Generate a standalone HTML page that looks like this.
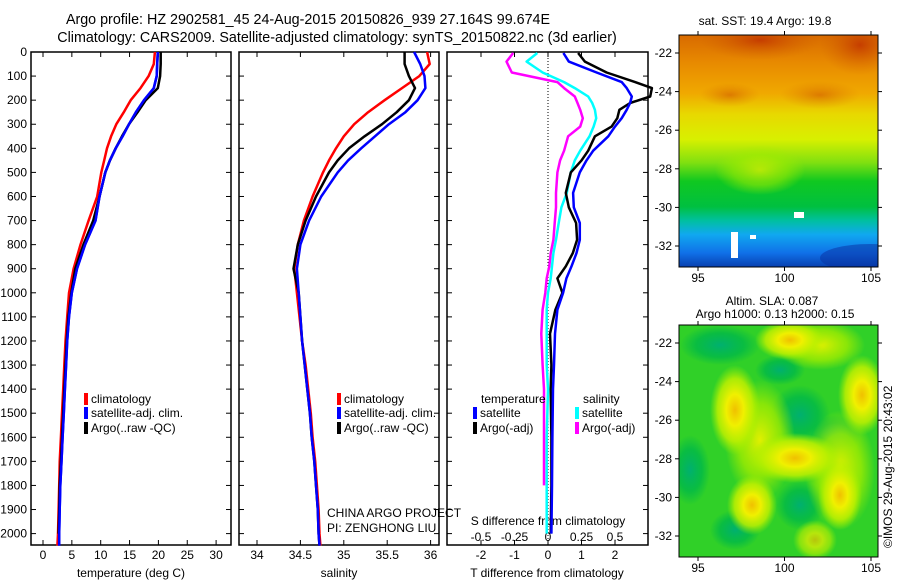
<!DOCTYPE html>
<html><head><meta charset="utf-8"><style>
body{margin:0;background:#fff;}
svg text{font-family:"Liberation Sans",sans-serif;font-size:12px;fill:#000;}
</style></head><body>
<svg id="c" width="900" height="580" viewBox="0 0 900 580" xmlns="http://www.w3.org/2000/svg">
<defs>
<linearGradient id="sst" x1="0" y1="0" x2="0" y2="1">
<stop offset="0" stop-color="#d86a00"/><stop offset="0.12" stop-color="#e88a00"/>
<stop offset="0.25" stop-color="#f0a800"/><stop offset="0.34" stop-color="#e8d800"/>
<stop offset="0.45" stop-color="#d8f000"/><stop offset="0.55" stop-color="#80e010"/>
<stop offset="0.63" stop-color="#10c820"/><stop offset="0.74" stop-color="#00c040"/>
<stop offset="0.8" stop-color="#00c0a0"/><stop offset="0.86" stop-color="#10a8f0"/>
<stop offset="0.94" stop-color="#1070e8"/><stop offset="1" stop-color="#0840b0"/>
</linearGradient>
<radialGradient id="yb"><stop offset="0" stop-color="#f0c000"/><stop offset="0.35" stop-color="#f0f000"/><stop offset="0.7" stop-color="#c0f000" stop-opacity="0.85"/><stop offset="1" stop-color="#a0f000" stop-opacity="0"/></radialGradient>
<radialGradient id="lb"><stop offset="0" stop-color="#e0f000"/><stop offset="0.6" stop-color="#a0ec00" stop-opacity="0.8"/><stop offset="1" stop-color="#a0ec00" stop-opacity="0"/></radialGradient>
<radialGradient id="gb"><stop offset="0" stop-color="#00b070"/><stop offset="0.6" stop-color="#00b848" stop-opacity="0.8"/><stop offset="1" stop-color="#00b848" stop-opacity="0"/></radialGradient>
<radialGradient id="ob"><stop offset="0" stop-color="#c03000" stop-opacity="0.8"/><stop offset="1" stop-color="#d06000" stop-opacity="0"/></radialGradient>
<clipPath id="m1"><rect x="679" y="35" width="199" height="232"/></clipPath>
<clipPath id="m2"><rect x="679" y="325" width="199" height="232"/></clipPath>
</defs>
<text x="308" y="24" text-anchor="middle" style="font-size:14.3px">Argo profile: HZ 2902581_45 24-Aug-2015 20150826_939 27.164S 99.674E</text>
<text x="337" y="42" text-anchor="middle" style="font-size:14.3px">Climatology: CARS2009. Satellite-adjusted climatology: synTS_20150822.nc (3d earlier)</text>
<g id="panels"></g>
<g id="maps">
 <g clip-path="url(#m1)">
  <rect x="679" y="35" width="199" height="232" fill="url(#sst)"/>
  <ellipse cx="760" cy="40" rx="60" ry="20" fill="url(#ob)"/>
  <ellipse cx="860" cy="45" rx="40" ry="30" fill="url(#ob)"/>
  <ellipse cx="730" cy="95" rx="30" ry="12" fill="url(#ob)" opacity="0.5"/>
  <ellipse cx="820" cy="95" rx="40" ry="14" fill="url(#ob)" opacity="0.5"/>
  <ellipse cx="760" cy="170" rx="45" ry="25" fill="url(#lb)" opacity="0.7"/>
  <ellipse cx="870" cy="258" rx="50" ry="14" fill="#0830a0" opacity="0.5"/>
  <rect x="731" y="232" width="7" height="26" fill="#fff"/>
  <rect x="794" y="212" width="10" height="6" fill="#fff"/>
  <rect x="750" y="235" width="6" height="4" fill="#fff"/>
 </g>
 <rect x="679" y="35" width="199" height="232" fill="none" stroke="#000"/>
 <g clip-path="url(#m2)">
  <rect x="679" y="325" width="199" height="232" fill="#30d028"/>
  <ellipse cx="720" cy="345" rx="40" ry="20" fill="url(#gb)"/>
  <ellipse cx="800" cy="415" rx="30" ry="30" fill="url(#gb)"/>
  <ellipse cx="835" cy="435" rx="25" ry="20" fill="url(#gb)"/>
  <ellipse cx="690" cy="470" rx="20" ry="35" fill="url(#gb)"/>
  <ellipse cx="800" cy="505" rx="25" ry="25" fill="url(#gb)"/>
  <ellipse cx="735" cy="530" rx="25" ry="20" fill="url(#gb)"/>
  <ellipse cx="780" cy="370" rx="25" ry="15" fill="url(#gb)"/>
  <ellipse cx="760" cy="440" rx="35" ry="60" fill="url(#lb)"/>
  <ellipse cx="840" cy="470" rx="35" ry="60" fill="url(#lb)"/>
  <ellipse cx="820" cy="345" rx="45" ry="25" fill="url(#lb)"/>
  <ellipse cx="735" cy="410" rx="25" ry="45" fill="url(#yb)"/>
  <ellipse cx="790" cy="340" rx="35" ry="20" fill="url(#yb)"/>
  <ellipse cx="862" cy="395" rx="24" ry="40" fill="url(#yb)"/>
  <ellipse cx="795" cy="458" rx="45" ry="25" fill="url(#yb)"/>
  <ellipse cx="840" cy="495" rx="22" ry="35" fill="url(#yb)"/>
  <ellipse cx="752" cy="505" rx="25" ry="30" fill="url(#yb)"/>
  <ellipse cx="815" cy="540" rx="22" ry="20" fill="url(#yb)" opacity="0.7"/>
 </g>
 <rect x="679" y="325" width="199" height="232" fill="none" stroke="#000"/>
 <text x="765" y="25" text-anchor="middle">sat. SST: 19.4 Argo: 19.8</text>
 <text x="772" y="305" text-anchor="middle">Altim. SLA: 0.087</text>
 <text x="775" y="318" text-anchor="middle">Argo h1000: 0.13 h2000: 0.15</text>
 <text transform="translate(892,548) rotate(-90)">©IMOS 29-Aug-2015 20:43:02</text>
</g>
</svg>
<script>
// depths (m)
const depths = [0,50,100,150,200,250,300,350,400,450,500,600,700,800,900,1000,1100,1200,1300,1400,1500,1600,1700,1800,1900,2000,2050];
// temperature (deg C)
const tClim = [19.4,19.2,18.3,16.9,15.2,14.0,12.7,11.8,11.1,10.6,10.1,9.4,7.9,6.5,5.3,4.5,4.2,3.9,3.7,3.5,3.3,3.1,2.9,2.8,2.7,2.6,2.5];
const tSat  = [19.9,19.8,19.7,19.2,17.5,16.1,14.9,13.8,12.6,11.6,10.8,9.8,9.1,7.3,5.9,5.0,4.5,4.2,4.0,3.8,3.6,3.4,3.2,3.0,2.9,2.8,2.8];
const tArgo = [20.4,20.4,20.3,19.9,17.8,16.4,14.9,13.7,12.6,11.6,10.8,9.8,8.7,7.0,5.6,4.9,4.4,4.1,3.9,3.7,3.5,3.3,3.1,2.9,2.8,2.7,2.7];
// salinity
const sClim = [35.96,35.99,35.87,35.67,35.47,35.28,35.12,35.0,34.91,34.83,34.76,34.64,34.54,34.47,34.43,34.46,34.49,34.52,34.56,34.59,34.62,34.64,34.67,34.69,34.71,34.72,34.73];
const sSat  = [35.81,35.88,35.93,35.94,35.85,35.71,35.52,35.36,35.2,35.05,34.93,34.74,34.6,34.5,34.46,34.48,34.5,34.52,34.55,34.58,34.61,34.63,34.66,34.68,34.7,34.71,34.72];
const sArgo = [35.7,35.7,35.75,35.82,35.75,35.61,35.44,35.24,35.06,34.93,34.83,34.68,34.56,34.47,34.42,34.48,34.5,34.52,34.55,34.58,34.61,34.63,34.66,34.68,34.7,34.71,34.72];
// differences from climatology
const dDepths = [4,40,85,125,150,185,212,240,275,310,350,410,450,500,585,645,710,780,835,890,940,1000,1070,1170,1300,1400,1600,1800,2000];
const dtSat  = [0.46,0.62,1.45,2.2,2.35,2.5,2.45,2.35,2.2,2.0,1.8,1.35,1.15,0.95,0.75,0.77,0.95,0.95,0.85,0.7,0.55,0.45,0.28,0.21,0.18,0.15,0.13,0.12,0.1];
const dtArgo = [0.9,1.1,1.75,2.6,3.1,3.05,2.45,2.13,2.07,1.9,1.4,1.2,1.0,0.68,0.53,0.62,0.84,0.87,0.74,0.53,0.28,0.43,0.22,0.06,0.1,0.08,0.1,0.1,0.08];
const dsSat  = [-0.08,-0.16,-0.04,0.12,0.2,0.3,0.33,0.35,0.36,0.34,0.31,0.24,0.2,0.17,0.14,0.1,0.08,0.06,0.04,0.03,0.02,0.0,-0.01,-0.01,-0.01,0.0,-0.01,-0.01,-0.01];
const dsArgo = [-0.26,-0.31,-0.27,0.07,0.12,0.2,0.22,0.24,0.26,0.24,0.15,0.12,0.09,0.07,0.06,0.06,0.05,0.04,0.02,0.01,-0.01,-0.02,-0.04,-0.05,-0.04,-0.03,-0.03,-0.03,null];
const depthTicks = [0,100,200,300,400,500,600,700,800,900,1000,1100,1200,1300,1400,1500,1600,1700,1800,1900,2000];
const tTicks = [0,5,10,15,20,25,30];
const sTicks = [34,34.5,35,35.5,36];
const dtTicks = [-2,-1,0,1,2];
const dsTicks = [-0.5,-0.25,0,0.25,0.5];

const NS='http://www.w3.org/2000/svg';
const G=document.getElementById('panels');
const yD = d => 52 + d*0.2408;
const xT = t => 43 + t*5.77;
const xS = s => 257 + (s-34)*86.8;
const xDT = v => 548 + v*33.5;
const xDS = v => 548 + v*134;
const TOP=52, BOT=545;
function mk(tag,at,parent){const e=document.createElementNS(NS,tag);for(const k in at)e.setAttribute(k,at[k]);(parent||G).appendChild(e);return e;}
function txt(x,y,s,anchor){const e=mk('text',{x:x,y:y,'text-anchor':anchor||'start'});e.textContent=s;return e;}
function line(vals,xf,color,name,dep){
  const d=dep||depths;const pts=[];
  vals.forEach((v,i)=>{if(v!==null)pts.push(xf(v).toFixed(1)+','+yD(d[i]).toFixed(1));});
  const p=mk('polyline',{points:pts.join(' '),fill:'none',stroke:color,'stroke-width':2.5,'stroke-linejoin':'round'});
  
  
}
const panels=[[31,231,'temperature-panel'],[239,439,'salinity-panel'],[447,648,'difference-panel']];
panels.forEach(p=>{
  const r=mk('rect',{x:p[0],y:TOP,width:p[1]-p[0],height:BOT-TOP,fill:'none',stroke:'#000','stroke-width':1.5});
  
  
  depthTicks.forEach(d=>{
    mk('line',{x1:p[0],x2:p[0]+5,y1:yD(d),y2:yD(d),stroke:'#000'});
    mk('line',{x1:p[1],x2:p[1]-5,y1:yD(d),y2:yD(d),stroke:'#000'});
  });
});
depthTicks.forEach(d=>{const t=txt(27,yD(d)+4,String(d),'end');
  
  });
tTicks.forEach(v=>{const x=xT(v);mk('line',{x1:x,x2:x,y1:BOT,y2:BOT-5,stroke:'#000'});mk('line',{x1:x,x2:x,y1:TOP,y2:TOP+5,stroke:'#000'});
  const t=txt(x,559,String(v),'middle');
  
  });
sTicks.forEach(v=>{const x=xS(v);mk('line',{x1:x,x2:x,y1:BOT,y2:BOT-5,stroke:'#000'});mk('line',{x1:x,x2:x,y1:TOP,y2:TOP+5,stroke:'#000'});
  const t=txt(x,559,String(v),'middle');
  
  });
dtTicks.forEach(v=>{const x=xDT(v);mk('line',{x1:x,x2:x,y1:BOT,y2:BOT-5,stroke:'#000'});mk('line',{x1:x,x2:x,y1:TOP,y2:TOP+5,stroke:'#000'});
  const t=txt(x,559,String(v),'middle');
  
  });
dsTicks.forEach(v=>{const t=txt(xDS(v),541,String(v),'middle');
  
  });
mk('line',{x1:548,x2:548,y1:TOP,y2:BOT,stroke:'#000','stroke-dasharray':'1,2'});
let t;
t=txt(131,577,'temperature (deg C)','middle');
t=txt(339,577,'salinity','middle');
t=txt(547,577,'T difference from climatology','middle');
t=txt(548,525,'S difference from climatology','middle');
t=txt(327,517,'CHINA ARGO PROJECT');
t=txt(327,532,'PI: ZENGHONG LIU');

line(tClim,xT,'#f00','temperature-climatology-line');
line(tSat,xT,'#00f','temperature-satellite-line');
line(tArgo.slice(0,26),xT,'#000','temperature-argo-line');
line(tSat,xT,'#00f','temperature-satellite-line-top');
line(sClim,xS,'#f00','salinity-climatology-line');
line(sArgo,xS,'#000','salinity-argo-line');
line(sSat,xS,'#00f','salinity-satellite-line');
line(dsArgo,xDS,'#f0f','sdiff-argo-line',dDepths);
line(dsSat,xDS,'#0ff','sdiff-satellite-line',dDepths);
line(dtArgo,xDT,'#000','tdiff-argo-line',dDepths);
line(dtSat,xDT,'#00f','tdiff-satellite-line',dDepths);

function leg(x,y,color,label,name){
  const r=mk('rect',{x:x,y:y-10,width:4,height:12,fill:color});
  
  
  const tt=txt(x+7,y,label);
  
  
}
[[84,'temp'],[337,'sal']].forEach(l=>{
  leg(l[0],403,'#f00','climatology','legend-climatology');
  leg(l[0],417,'#00f','satellite-adj. clim.','legend-satellite');
  leg(l[0],432,'#000','Argo(..raw -QC)','legend-argo');
});
t=txt(481,403,'temperature');
t=txt(583,403,'salinity');
leg(473,417,'#00f','satellite','legend-tdiff-satellite');
leg(473,432,'#000','Argo(-adj)','legend-tdiff-argo');
leg(575,417,'#0ff','satellite','legend-sdiff-satellite');
leg(575,432,'#f0f','Argo(-adj)','legend-sdiff-argo');

// map axes
const M=document.getElementById('maps');
const lonTicks=[95,100,105];
const latTicks=[-22,-24,-26,-28,-30,-32];
[[35,267,53],[325,557,343]].forEach((m,mi)=>{
  lonTicks.forEach(v=>{const x=698+(v-95)*17.3;
    mk('line',{x1:x,x2:x,y1:m[1],y2:m[1]+4,stroke:'#000'},M);
    mk('line',{x1:x,x2:x,y1:m[0],y2:m[0]-4,stroke:'#000'},M);
    const e=mk('text',{x:x,y:m[1]+15,'text-anchor':'middle'},M);e.textContent=String(v);
    
    });
  latTicks.forEach(v=>{const y=m[2]+(-22-v)*19.3;
    mk('line',{x1:679,x2:675,y1:y,y2:y,stroke:'#000'},M);
    mk('line',{x1:878,x2:882,y1:y,y2:y,stroke:'#000'},M);
    const e=mk('text',{x:672,y:y+4,'text-anchor':'end'},M);e.textContent=String(v);
    
    });
});
</script>
</body></html>
